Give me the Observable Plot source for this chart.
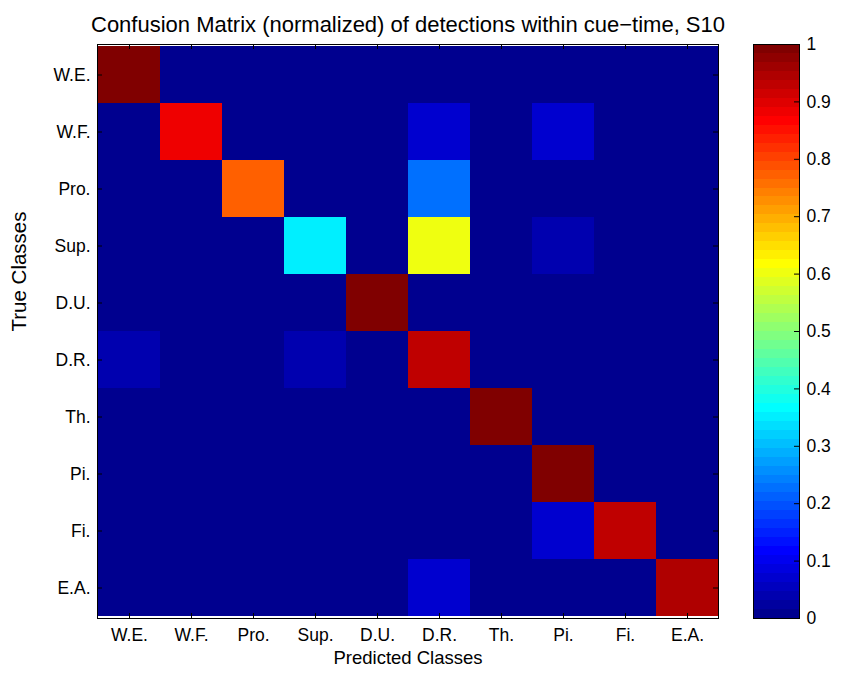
<!DOCTYPE html>
<html>
<head>
<meta charset="utf-8">
<script src="https://cdn.jsdelivr.net/npm/d3@7"></script>
<script src="https://cdn.jsdelivr.net/npm/@observablehq/plot@0.6"></script>
<style>
  html, body { margin: 0; padding: 0; background: #fff; }
  #wrap { position: relative; width: 841px; height: 681px; }
  #wrap svg { position: absolute; left: 0; top: 0; }
</style>
</head>
<body>
<div id="wrap"></div>
<script>
// ---- data ----
const classes = ["W.E.", "W.F.", "Pro.", "Sup.", "D.U.", "D.R.", "Th.", "Pi.", "Fi.", "E.A."];
// rows = true class, columns = predicted class
const rowWE  = [1,    0,    0,    0,    0,    0,     0,    0,     0,    0];
const rowWF  = [0,    0.88, 0,    0,    0,    0.065, 0,    0.065, 0,    0];
const rowPro = [0,    0,    0.77, 0,    0,    0.23,  0,    0,     0,    0];
const rowSup = [0,    0,    0,    0.35, 0,    0.60,  0,    0.04,  0,    0];
const rowDU  = [0,    0,    0,    0,    1,    0,     0,    0,     0,    0];
const rowDR  = [0.04, 0,    0,    0.04, 0,    0.93,  0,    0,     0,    0];
const rowTh  = [0,    0,    0,    0,    0,    0,     1,    0,     0,    0];
const rowPi  = [0,    0,    0,    0,    0,    0,     0,    1,     0,    0];
const rowFi  = [0,    0,    0,    0,    0,    0,     0,    0.065, 0.93, 0];
const rowEA  = [0,    0,    0,    0,    0,    0.065, 0,    0,     0,    0.94];
const colorbarTicks = [0, 0.1, 0.2, 0.3, 0.4, 0.5, 0.6, 0.7, 0.8, 0.9, 1];
const titleText = "Confusion Matrix (normalized) of detections within cue\u2212time, S10";
const xLabelText = "Predicted Classes";
const yLabelText = "True Classes";

const rows = [rowWE, rowWF, rowPro, rowSup, rowDU, rowDR, rowTh, rowPi, rowFi, rowEA];
const cells = [];
rows.forEach((r, i) => r.forEach((v, j) => cells.push({truth: classes[i], pred: classes[j], value: v})));

// MATLAB jet(64) colormap
function jetU(j) { if (j < 1 || j > 47) return 0; if (j <= 16) return j / 16; if (j <= 31) return 1; return (48 - j) / 16; }
function jet(t) {
  const i = Math.max(1, Math.min(64, Math.floor(t * 64) + 1));
  const r = jetU(i - 24), g = jetU(i - 8), b = jetU(i + 8);
  return `rgb(${Math.round(r * 255)},${Math.round(g * 255)},${Math.round(b * 255)})`;
}
const colorScale = {type: "linear", domain: [0, 1], interpolate: jet};

const W = 841, H = 681;
const mL = 97, mR = W - 718, mT = 44, mB = H - 618;
const innerH = H - mT - mB, innerW = W - mL - mR;
const font = "'Liberation Sans', Arial, Helvetica, sans-serif";
const tickFont = 17.5;

const main = Plot.plot({
  width: W, height: H,
  marginLeft: mL, marginRight: mR, marginTop: mT, marginBottom: mB,
  style: {fontFamily: font, fontSize: "17.5px", background: "transparent", color: "black"},
  x: {type: "band", domain: classes, padding: 0, axis: null},
  y: {type: "band", domain: classes, padding: 0, axis: null},
  color: colorScale,
  marks: [
    Plot.cell(cells, {x: "pred", y: "truth", fill: "value", inset: 0, shapeRendering: "crispEdges"}),
    Plot.text(classes, {x: d => d, frameAnchor: "bottom", dy: 22, fontSize: tickFont, fill: "black"}),
    Plot.text(classes, {y: d => d, frameAnchor: "left", dx: -7, textAnchor: "end", fontSize: tickFont, fill: "black"}),
    Plot.tickX(classes, {x: d => d, insetBottom: innerH - 5, stroke: "black"}),
    Plot.tickX(classes, {x: d => d, insetTop: innerH - 5, stroke: "black"}),
    Plot.tickY(classes, {y: d => d, insetRight: innerW - 5, stroke: "black"}),
    Plot.tickY(classes, {y: d => d, insetLeft: innerW - 5, stroke: "black"}),
    Plot.frame({stroke: "black"}),
    Plot.text([titleText], {frameAnchor: "top", dy: -28, fontSize: 22, fill: "black"}),
    Plot.text([xLabelText], {frameAnchor: "bottom", dy: 45, fontSize: 18.5, fill: "black"}),
    Plot.text([yLabelText], {frameAnchor: "left", dx: -78, rotate: -90, fontSize: 20.5, fill: "black"})
  ]
});

const cbL = 753, cbR = 799;
const levels = d3.range(64);
const fmt = d => (d === 0 || d === 1) ? String(d) : d.toFixed(1);
const bar = Plot.plot({
  width: W, height: H,
  marginLeft: cbL, marginRight: W - cbR, marginTop: mT, marginBottom: mB,
  style: {fontFamily: font, fontSize: "17.5px", background: "transparent", color: "black"},
  x: {domain: [0, 1], axis: null},
  y: {domain: [0, 1], axis: null},
  color: colorScale,
  marks: [
    Plot.rect(levels, {x1: 0, x2: 1, y1: d => d / 64, y2: d => (d + 1) / 64, fill: d => (d + 0.5) / 64, shapeRendering: "crispEdges"}),
    Plot.text(colorbarTicks, {y: d => d, text: fmt, frameAnchor: "right", dx: 7, textAnchor: "start", fontSize: tickFont, fill: "black"}),
    Plot.tickY(colorbarTicks, {y: d => d, insetLeft: (cbR - cbL) - 5, stroke: "black"}),
    Plot.frame({stroke: "black"})
  ]
});

document.getElementById("wrap").append(main, bar);
</script>
</body>
</html>
